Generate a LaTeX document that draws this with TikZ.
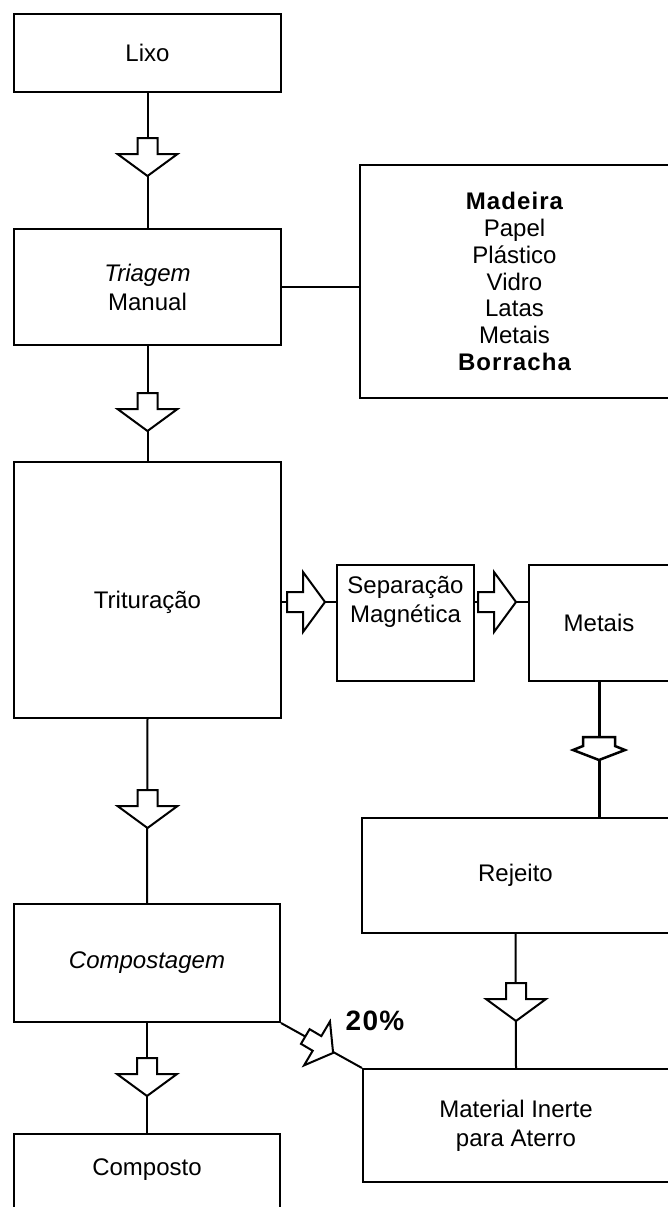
\documentclass[tikz,border=0pt]{standalone}
\usepackage{fontspec}
\setmainfont{Liberation Sans}
\newfontfamily\spacedbold[LetterSpace=4.5]{Liberation Sans}
\usetikzlibrary{calc}
\tikzset{
  box/.style={draw, line width=2pt, inner sep=0pt, align=center, font=\fontsize{24}{29}\selectfont},
  lbl/.style={inner sep=0pt, align=center, font=\fontsize{24}{29}\selectfont},
  conn/.style={line width=2pt},
  blockarrow/.pic={\draw[line width=2pt, fill=white, line join=miter]
      (-10,0) -- (10,0) -- (10,16) -- (30,16) -- (0,38) -- (-30,16) -- (-10,16) -- cycle;},
  fatarrow/.pic={\draw[line width=2.5pt, fill=white, line join=miter]
      (-16,0) -- (16,0) -- (16,9) -- (26,13) -- (0,23) -- (-26,13) -- (-16,9) -- cycle;}
}
\begin{document}
\begin{tikzpicture}[x=1pt,y=-1pt]
\path[use as bounding box, fill=white] (0,0) rectangle (668,1207);

% boxes
\node[box, minimum width=267pt, minimum height=78pt] (lixo) at (147.5,53) {Lixo};
\node[box, minimum width=267pt, minimum height=116pt] (triagem) at (147.5,287) {\itshape Triagem\\Manual};
\node[box, minimum width=309pt, minimum height=233pt, font=\fontsize{24}{26.7}\selectfont] (madeira) at (514.5,281.5)
  {{\spacedbold\bfseries Madeira}\\Papel\\Plástico\\Vidro\\Latas\\Metais\\{\spacedbold\bfseries Borracha}};
\node[box, minimum width=267pt, minimum height=256pt] (trit) at (147.5,590) {};
\node[lbl] (trittxt) at (147.5,602) {Trituração};
\node[box, minimum width=137pt, minimum height=116pt] (sep) at (405.5,623) {};
\node[lbl] (septxt) at (405.5,602) {Separação\\Magnética};
\node[box, minimum width=140pt, minimum height=116pt] (metais) at (599,623) {Metais};
\node[box, minimum width=307pt, minimum height=115pt] (rejeito) at (515.5,875.5) {Rejeito};
\node[box, minimum width=266pt, minimum height=118pt] (compost) at (147,963) {\itshape Compostagem};
\node[box, minimum width=306pt, minimum height=113pt] (material) at (516,1125.5) {Material Inerte\\para Aterro};
\node[box, minimum width=266pt, minimum height=81pt] (composto) at (147,1174.5) {};
\node[lbl] (compostotxt) at (147,1170) {Composto};
\node[inner sep=0pt, font=\fontsize{28}{30}\selectfont\spacedbold\bfseries] (pct) at (375,1021) {20\%};

% connectors
\draw[conn] (lixo.south) -- (triagem.north);
\draw[conn] (triagem.east) -- (triagem.east -| madeira.west);
\draw[conn] (triagem.south) -- (trit.north);
\draw[conn] (trit.east |- septxt) -- (sep.west |- septxt);
\draw[conn] (sep.east |- septxt) -- (metais.west |- septxt);
\draw[line width=3pt] (metais.south) -- (metais.south |- rejeito.north);
\draw[conn] (trit.south) -- (compost.north);
\draw[conn] (rejeito.south) -- (material.north);
\draw[conn] (compost.south) -- (composto.north);
\draw[conn] (compost.south east) -- (material.north west);

% block arrows
\pic at (147.5,138) {blockarrow};
\pic at (147.5,393) {blockarrow};
\pic at (147.5,790) {blockarrow};
\pic at (147,1058) {blockarrow};
\pic at (516,983) {blockarrow};
\pic at (599,737) {fatarrow};
\pic[rotate=90] at (287,602) {blockarrow};
\pic[rotate=90] at (478,602) {blockarrow};
\pic[rotate=59.45, scale=0.85] at ($(compost.south east)!0.3!(material.north west)$) {blockarrow};
\end{tikzpicture}
\end{document}
